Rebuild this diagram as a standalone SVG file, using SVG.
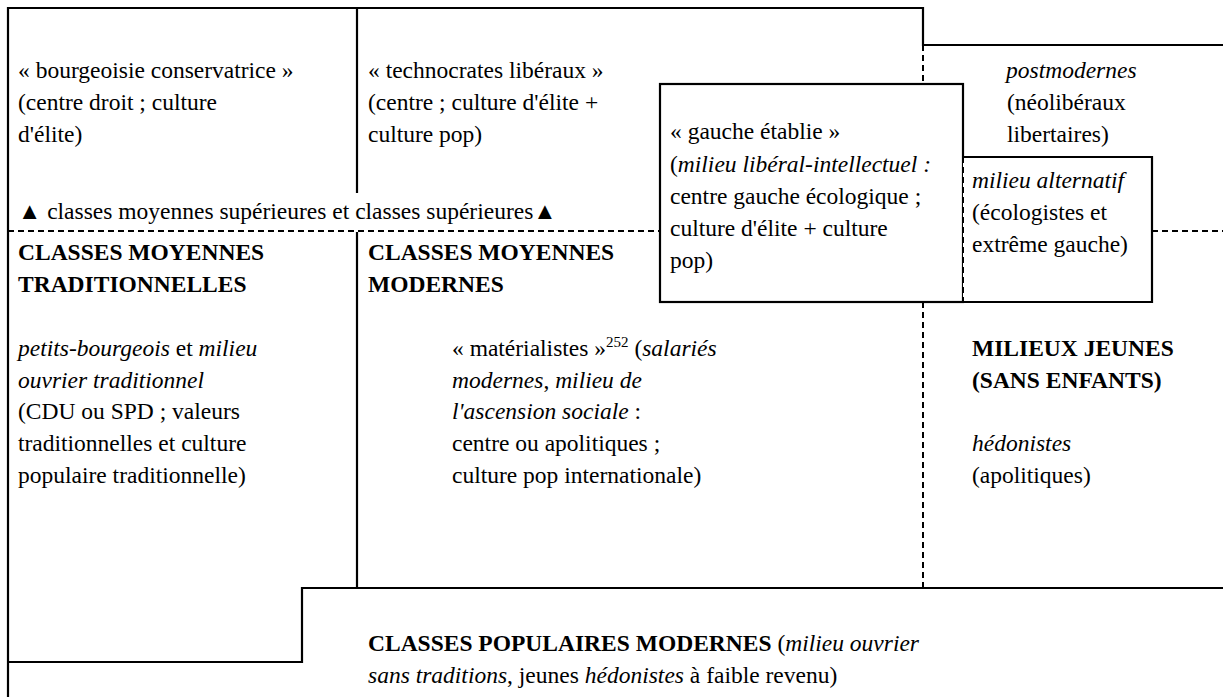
<svg xmlns="http://www.w3.org/2000/svg" width="1223" height="697" viewBox="0 0 1223 697" font-family="'Liberation Serif', 'Times New Roman', Times, serif" font-size="23.5">
<style>
.b{font-weight:bold}
.i{font-style:italic}
.s{fill:none;stroke:#000;stroke-width:2.2}
.d{fill:none;stroke:#000;stroke-width:2;stroke-dasharray:6 4}
.box{fill:#fff;stroke:#000;stroke-width:2.2}
</style>
<rect width="1223" height="697" fill="#fff"/>
<g id="connectors">
<path class="s" d="M8,697 V8 H923 V45 H1223"/>
<path class="s" d="M357,8 V193"/>
<path class="s" d="M357,232 V588"/>
<path class="s" d="M8,662 H302 V588 H1223"/>
<path class="d" d="M8,231 H660"/>
<path class="d" d="M1152,231 H1223"/>
<path class="d" d="M923,45 V84"/>
<path class="d" d="M923,302 V588"/>
</g>
<g id="bourgeoisie">
<text x="18" y="78">« bourgeoisie conservatrice »</text>
<text x="18" y="110">(centre droit ; culture</text>
<text x="18" y="142">d'élite)</text>
</g>
<g id="technocrates">
<text x="368" y="78">« technocrates libéraux »</text>
<text x="368" y="110">(centre ; culture d'élite +</text>
<text x="368" y="142">culture pop)</text>
</g>
<g id="postmodernes">
<text x="1006" y="78" class="i">postmodernes</text>
<text x="1007" y="110">(néolibéraux</text>
<text x="1007" y="142">libertaires)</text>
</g>
<g id="label-sup">
<text x="18" y="219">▲ classes moyennes supérieures et classes supérieures▲</text>
</g>
<g id="gauche">
<rect class="box" x="660" y="84" width="303" height="218"/>
<text x="670" y="139">« gauche établie »</text>
<text x="670" y="172">(<tspan class="i">milieu libéral-intellectuel :</tspan></text>
<text x="670" y="204">centre gauche écologique ;</text>
<text x="670" y="236">culture d'élite + culture</text>
<text x="670" y="268">pop)</text>
</g>
<g id="alternatif">
<rect x="963" y="157" width="189" height="145" fill="#fff"/>
<path class="s" d="M963,157 H1152 V302 H963"/>
<path class="d" d="M963,157 V302"/>
<text x="972" y="188" class="i">milieu alternatif</text>
<text x="972" y="220">(écologistes et</text>
<text x="972" y="252">extrême gauche)</text>
</g>
<g id="cm-trad">
<text x="18" y="260" class="b">CLASSES MOYENNES</text>
<text x="18" y="292" class="b">TRADITIONNELLES</text>
<text x="18" y="356"><tspan class="i">petits-bourgeois</tspan> et <tspan class="i">milieu</tspan></text>
<text x="18" y="388" class="i">ouvrier traditionnel</text>
<text x="18" y="419">(CDU ou SPD ; valeurs</text>
<text x="18" y="451">traditionnelles et culture</text>
<text x="18" y="483">populaire traditionnelle)</text>
</g>
<g id="cm-mod">
<text x="368" y="260" class="b">CLASSES MOYENNES</text>
<text x="368" y="292" class="b">MODERNES</text>
<text x="452" y="356">« matérialistes »<tspan font-size="15" dy="-9">252</tspan><tspan dy="9"> (</tspan><tspan class="i">salariés</tspan></text>
<text x="452" y="388" class="i">modernes<tspan font-style="normal">,</tspan> milieu de</text>
<text x="452" y="419"><tspan class="i">l'ascension sociale</tspan> :</text>
<text x="452" y="451">centre ou apolitiques ;</text>
<text x="452" y="483">culture pop internationale)</text>
</g>
<g id="jeunes">
<text x="972" y="356" class="b">MILIEUX JEUNES</text>
<text x="972" y="388" class="b">(SANS ENFANTS)</text>
<text x="972" y="451" class="i">hédonistes</text>
<text x="972" y="483">(apolitiques)</text>
</g>
<g id="populaires">
<text x="368" y="651"><tspan class="b">CLASSES POPULAIRES MODERNES</tspan> (<tspan class="i">milieu ouvrier</tspan></text>
<text x="368" y="683"><tspan class="i">sans traditions</tspan>, jeunes <tspan class="i">hédonistes</tspan> à faible revenu)</text>
</g>
</svg>
